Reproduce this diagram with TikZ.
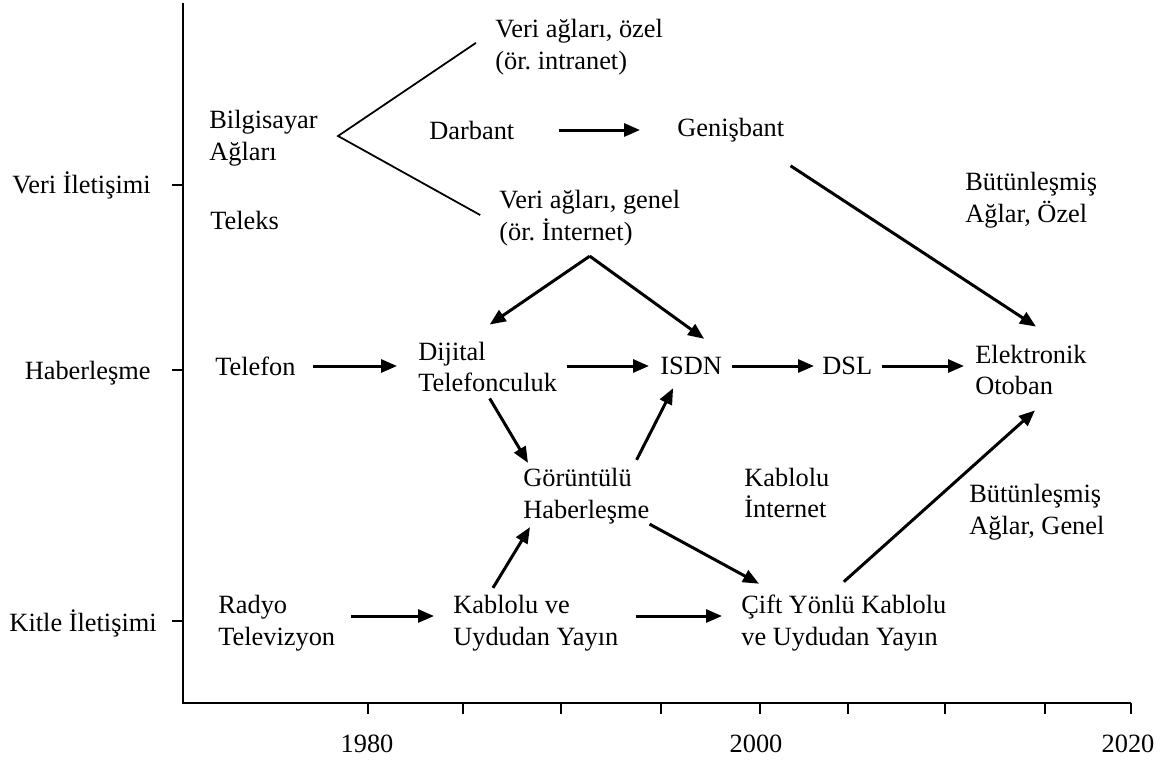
\documentclass[tikz,border=0pt]{standalone}
\usepackage{fontspec}
\setmainfont{Liberation Serif}
\usetikzlibrary{arrows.meta}
\frenchspacing

\begin{document}
\begin{tikzpicture}[x=0.2mm,y=-0.2mm,
  txt/.style={anchor=west,align=left,inner sep=0pt,font=\fontsize{15}{18}\selectfont},
  lbl/.style={inner sep=0pt,font=\fontsize{15}{18}\selectfont},
  arr/.style={-{Triangle[length=3.2mm,width=2.6mm]},line width=1.7pt},
  fork/.style={line width=1pt},
  axis/.style={line width=1.2pt},
  tick/.style={line width=0.8pt}]
\useasboundingbox (0,0) rectangle (1173,764);
\draw[axis] (183,3) -- (183,703) -- (1131,703);
\foreach \x in {368,463,561,661,760,848,945,1045,1131}
  \draw[tick] (\x,703) -- (\x,714);
\foreach \y in {185,370,621}
  \draw[tick] (172,\y) -- (183,\y);
\node[lbl,anchor=east] (veri) at (151,185) {Veri İletişimi};
\node[lbl,anchor=east] (haber) at (151,373) {Haberleşme};
\node[lbl,anchor=east] (kitle) at (157,623) {Kitle İletişimi};
\node[lbl] (y1980) at (367,744) {1980};
\node[lbl] (y2000) at (756,744) {2000};
\node[lbl] (y2020) at (1128,744) {2020};

\node[txt] (ozel) at (495,47) {Veri ağları, özel\\(ör. intranet)};
\node[txt] (bilg) at (209,138) {Bilgisayar\\Ağları};
\node[txt] (darbant) at (429,130) {Darbant};
\node[txt] (genis) at (677,130) {Genişbant};
\node[txt] (genel) at (499,218) {Veri ağları, genel\\(ör. İnternet)};
\node[txt] (teleks) at (210,220) {Teleks};
\node[txt] (butozel) at (965,200) {Bütünleşmiş\\Ağlar, Özel};
\node[txt] (telefon) at (215,366) {Telefon};
\node[txt] (dijital) at (418,367) {Dijital\\Telefonculuk};
\node[txt] (isdn) at (660,366) {ISDN};
\node[txt] (dsl) at (822,366) {DSL};
\node[txt] (elektr) at (975,370) {Elektronik\\Otoban};
\node[txt] (gorunt) at (523,496) {Görüntülü\\Haberleşme};
\node[txt] (kabnet) at (744,493) {Kablolu\\İnternet};
\node[txt] (butgenel) at (969,512) {Bütünleşmiş\\Ağlar, Genel};
\node[txt] (radyo) at (218,623) {Radyo\\Televizyon};
\node[txt] (kabve) at (453,623) {Kablolu ve\\Uydudan Yayın};
\node[txt] (cift) at (741,623) {Çift Yönlü Kablolu\\ve Uydudan Yayın};

\coordinate (kol) at ([shift={(.4cm,.04cm)}]bilg.east);
\coordinate (ayrim) at ([yshift=-.2cm]genel.south);

\draw[fork,shorten <=.46cm,shorten >=.43cm] ([yshift=.34cm]ozel.west) -- (kol) -- ([yshift=-.15cm]genel.west);
\draw[arr,shorten <=.88cm,shorten >=.74cm] (darbant) -- (genis);
\draw[arr] ([shift={(.12cm,-.47cm)}]genis.south east) -- ([shift={(.1cm,.36cm)}]elektr.north);
\draw[arr] (ayrim) -- ([shift={(.04cm,.34cm)}]dijital.north);
\draw[arr] (ayrim) -- ([shift={(.26cm,.36cm)}]isdn.north);
\draw[arr,shorten <=.34cm,shorten >=.42cm] (telefon.east) -- (telefon.east -| dijital.west);
\draw[arr,shorten <=.2cm,shorten >=.22cm] (dijital.east |- isdn.west) -- (isdn.west);
\draw[arr,shorten <=.2cm,shorten >=.16cm] (isdn) -- (dsl);
\draw[arr,shorten <=.18cm,shorten >=.22cm] (dsl.east) -- (dsl.east -| elektr.west);
\draw[arr] ([shift={(.04cm,-.12cm)}]dijital.south) -- ([shift={(.1cm,.1cm)}]gorunt.north west);
\draw[arr] ([shift={(-.26cm,.16cm)}]gorunt.north east) -- ([shift={(-.36cm,-.26cm)}]isdn.south);
\draw[arr] (gorunt.south east) -- ([shift={(.36cm,.22cm)}]cift.north west);
\draw[arr] ([shift={(.8cm,.14cm)}]kabve.north west) -- ([shift={(.14cm,-.06cm)}]gorunt.south west);
\draw[arr] ([yshift=.26cm]cift.north) -- ([shift={(.08cm,-.3cm)}]elektr.south);
\draw[arr,shorten <=.32cm,shorten >=.38cm] ([yshift=.14cm]radyo.east) -- ([yshift=.14cm]kabve.west);
\draw[arr,shorten <=.34cm,shorten >=.38cm] ([yshift=.14cm]kabve.east) -- ([yshift=.14cm]cift.west);
\end{tikzpicture}
\end{document}
